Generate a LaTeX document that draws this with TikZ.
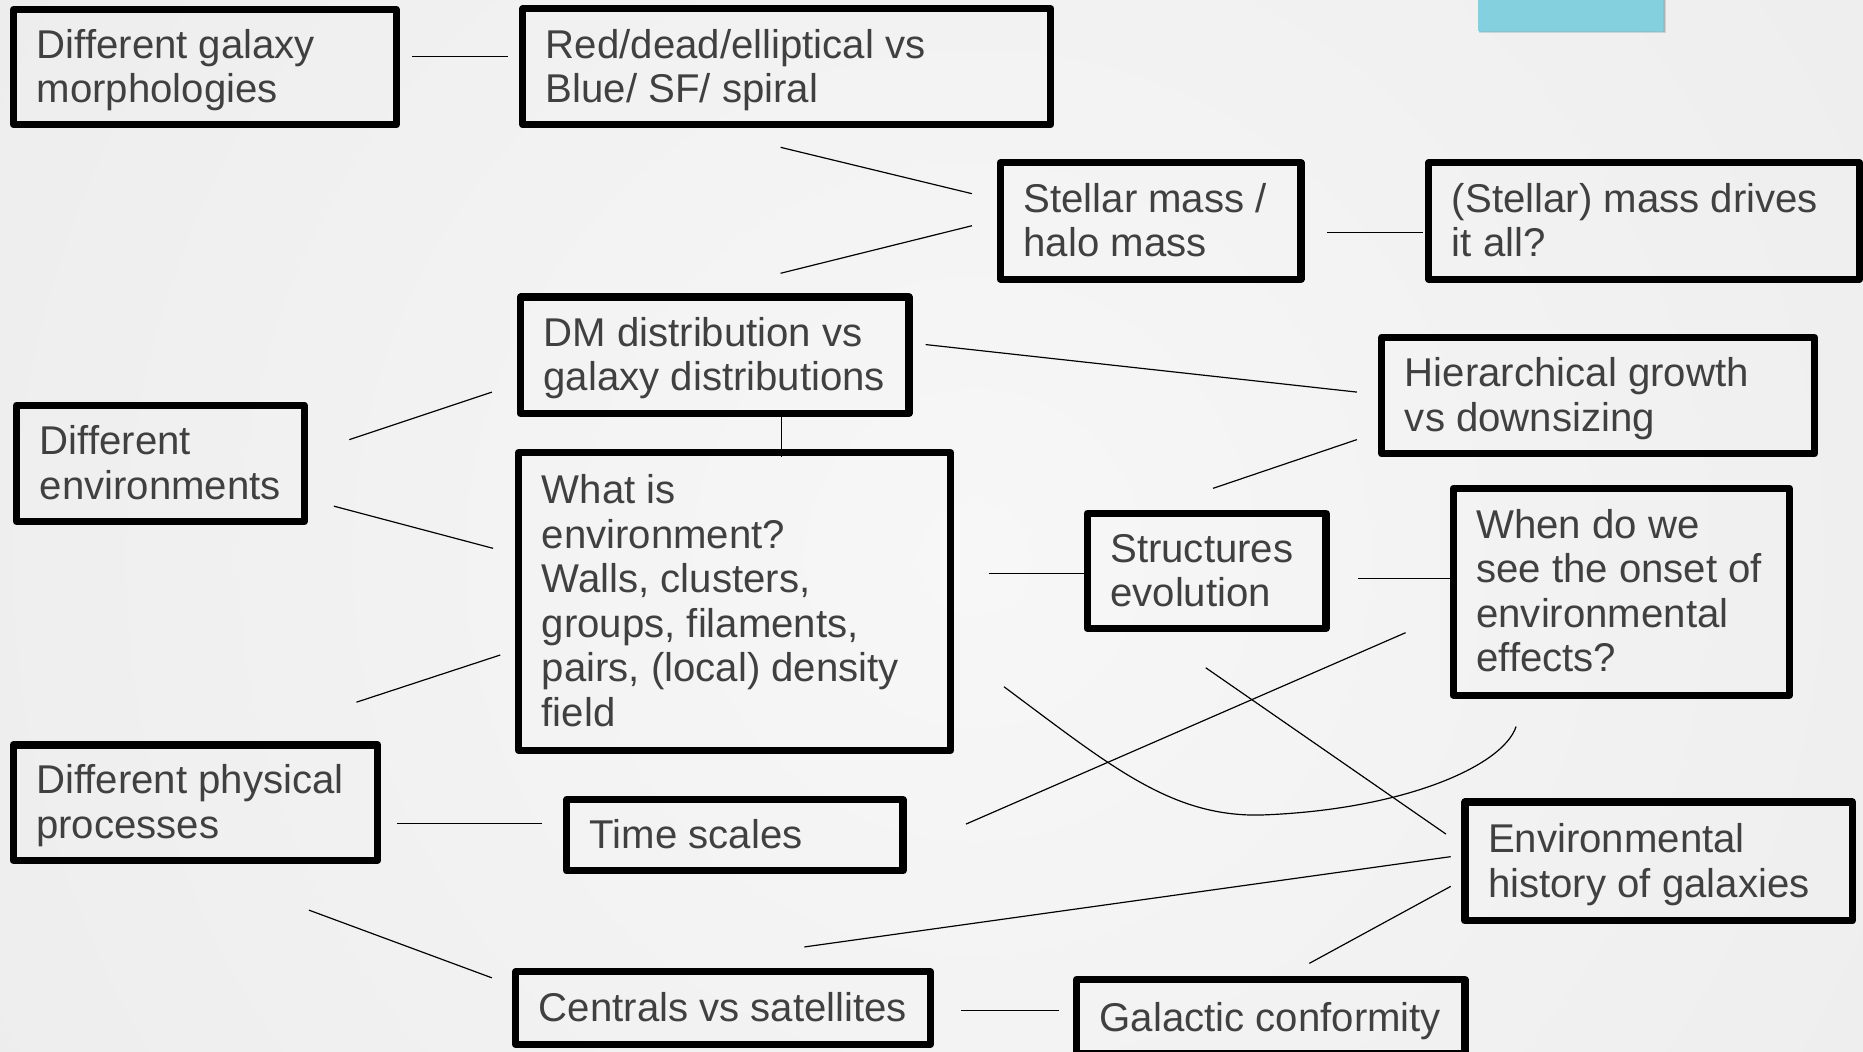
\documentclass[tikz,border=0pt]{standalone}
\usepackage{fontspec}
\setmainfont{Liberation Sans}
\definecolor{txtgray}{RGB}{64,64,64}
\definecolor{cyanbar}{RGB}{132,208,222}
\definecolor{bgin}{RGB}{247,247,247}
\definecolor{bgout}{RGB}{226,226,226}
\newcommand{\topstrut}{\rule{0pt}{28pt}}
\begin{document}
\begin{tikzpicture}[x=1pt,y=-1pt,
  box/.style={draw=black, line width=6pt, line join=round, inner sep=0pt},
  txt/.style={anchor=north west, inner sep=0pt, outer sep=0pt, align=left, text=txtgray,
    font=\fontsize{33.8}{37.4}\selectfont},
  link/.style={draw=black, line width=1pt}]
\useasboundingbox (0,0) rectangle (1568,885.4);
% background
\begin{scope}
\clip (0,0) rectangle (1568,885.4);
\shade[inner color=bgin, outer color=bgout] (820,470) circle (2000);
\end{scope}
% cyan bar
\fill[black, opacity=0.12] (1245,0) rectangle (1402,28);
\fill[black, opacity=0.15] (1244.5,0) rectangle (1401,27);
\fill[cyanbar] (1244,0) rectangle (1400,26);

% boxes
\node[box, minimum width=322pt,   minimum height=97pt]   (A) at (172.5,56.5) {};
\node[box, minimum width=444.5pt, minimum height=97.5pt] (B) at (662.25,56.25) {};
\node[box, minimum width=253pt,   minimum height=98pt]   (C) at (968.5,186) {};
\node[box, minimum width=362.5pt, minimum height=98pt]   (D) at (1383.75,186) {};
\node[box, minimum width=327pt,   minimum height=98pt]   (E) at (601.5,299) {};
\node[box, minimum width=363.5pt, minimum height=250.5pt](F) at (618.25,506.25) {};
\node[box, minimum width=242pt,   minimum height=98pt]   (G) at (135,390) {};
\node[box, minimum width=364pt,   minimum height=98pt]   (H) at (1345,333) {};
\node[box, minimum width=201pt,   minimum height=97pt]   (I) at (1015.5,480.5) {};
\node[box, minimum width=283pt,   minimum height=174pt]  (K) at (1364.5,498) {};
\node[box, minimum width=307pt,   minimum height=97pt]   (J) at (164.5,675.5) {};
\node[box, minimum width=283pt,   minimum height=60pt]   (L) at (618.5,703) {};
\node[box, minimum width=326pt,   minimum height=100pt]  (M) at (1396,725) {};
\node[box, minimum width=349pt,   minimum height=61pt]   (N) at (608.5,848.5) {};
\node[box, minimum width=327pt,   minimum height=62.5pt] (O) at (1069.5,855.75) {};

% texts
\node[txt] (At) at (31,21.1)     {\topstrut Different galaxy\\morphologies};
\node[txt] (Bt) at (459.5,20.85) {\topstrut Red/dead/elliptical vs\\Blue/ SF/ spiral};
\node[txt] (Ct) at (861.5,150.6) {\topstrut Stellar mass /\\halo mass};
\node[txt] (Dt) at (1222,150.6)  {\topstrut (Stellar) mass drives\\it all?};
\node[txt] (Et) at (457.5,263.6) {\topstrut DM distribution vs\\galaxy distributions};
\node[txt] (Ft) at (456,396.05)  {\topstrut What is\\environment?\\Walls, clusters,\\groups, filaments,\\pairs, (local) density\\field};
\node[txt] (Gt) at (33.5,354.6)  {\topstrut Different\\environments};
\node[txt] (Ht) at (1182.5,297.6){\topstrut Hierarchical growth\\vs downsizing};
\node[txt] (It) at (934.5,445.1) {\topstrut Structures\\evolution};
\node[txt] (Kt) at (1242.5,425.2){\topstrut When do we\\see the onset of\\environmental\\effects?};
\node[txt] (Jt) at (30.5,640.1)  {\topstrut Different physical\\processes};
\node[txt] (Lt) at (496.5,686.3) {\topstrut Time scales};
\node[txt] (Mt) at (1252.5,689.6){\topstrut Environmental\\history of galaxies};
\node[txt] (Nt) at (453.5,831.8) {\topstrut Centrals vs satellites};
\node[txt] (Ot) at (925.5,840.5) {\topstrut Galactic conformity};

% connector end points
\coordinate (ab1) at (347,47.5);    \coordinate (ab2) at (427.5,47.5);
\coordinate (bc1) at (657,124);     \coordinate (bc2) at (818,163);
\coordinate (ec1) at (657,230);     \coordinate (ec2) at (818,190);
\coordinate (cd1) at (1117,196);    \coordinate (cd2) at (1198,196);
\coordinate (ef1) at (658,349);     \coordinate (ef2) at (658,384.5);
\coordinate (eh1) at (779,290);     \coordinate (eh2) at (1142,330);
\coordinate (hi1) at (1142,370);    \coordinate (hi2) at (1021,411);
\coordinate (ge1) at (294,370);     \coordinate (ge2) at (414,330);
\coordinate (gf1) at (281,426);     \coordinate (gf2) at (415,461.5);
\coordinate (jf1) at (300,591);     \coordinate (jf2) at (421,551.3);
\coordinate (fi1) at (832,483);     \coordinate (fi2) at (912,483);
\coordinate (ik1) at (1143,487);    \coordinate (ik2) at (1221,487);
\coordinate (jl1) at (334,693);     \coordinate (jl2) at (456,693);
\coordinate (lk1) at (813,693.6);   \coordinate (lk2) at (1183,532.5);
\coordinate (im1) at (1014.8,562);  \coordinate (im2) at (1217,702);
\coordinate (mn1) at (1221,721);    \coordinate (mn2) at (677,797);
\coordinate (mo1) at (1221,746);    \coordinate (mo2) at (1102,810.8);
\coordinate (jn1) at (260,766);     \coordinate (jn2) at (414,823);
\coordinate (no1) at (809,850.5);   \coordinate (no2) at (891,850.5);
\coordinate (fk1) at (845,578);     \coordinate (fk2) at (1276,611.5);

\draw[link] (ab1) -- (ab2);
\draw[link] (bc1) -- (bc2);
\draw[link] (ec1) -- (ec2);
\draw[link] (cd1) -- (cd2);
\draw[link] (ef1) -- (ef2);
\draw[link] (eh1) -- (eh2);
\draw[link] (hi1) -- (hi2);
\draw[link] (ge1) -- (ge2);
\draw[link] (gf1) -- (gf2);
\draw[link] (jf1) -- (jf2);
\draw[link] (fi1) -- (fi2);
\draw[link] (ik1) -- (ik2);
\draw[link] (jl1) -- (jl2);
\draw[link] (lk1) -- (lk2);
\draw[link] (im1) -- (im2);
\draw[link] (mn1) -- (mn2);
\draw[link] (mo1) -- (mo2);
\draw[link] (jn1) -- (jn2);
\draw[link] (no1) -- (no2);
\draw[link] (fk1) .. controls (935,645) and (985,687) .. (1060,686)
                  .. controls (1180,682) and (1265,645) .. (fk2);
\end{tikzpicture}
\end{document}
